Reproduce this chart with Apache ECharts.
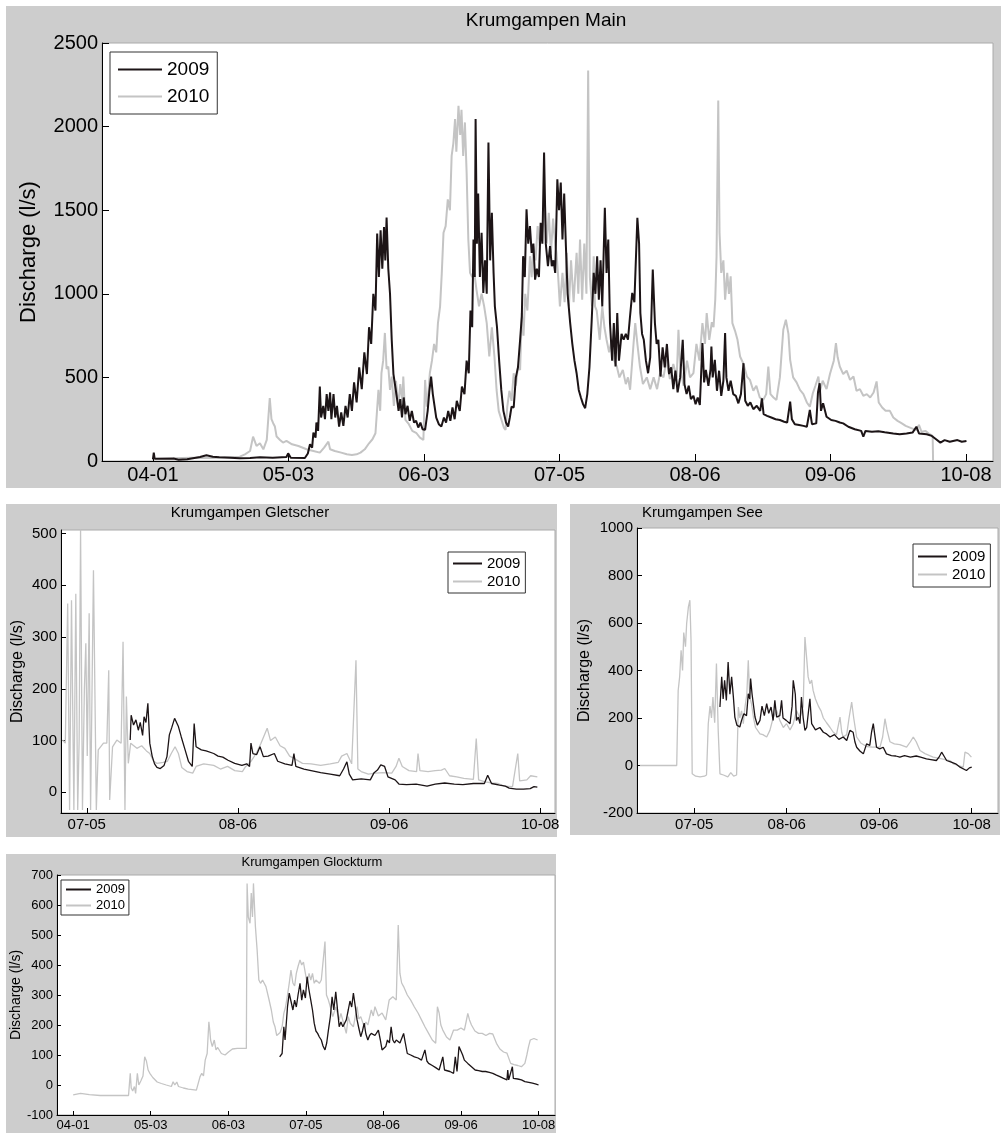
<!DOCTYPE html>
<html>
<head>
<meta charset="utf-8">
<script src="https://cdn.jsdelivr.net/npm/echarts@6/dist/echarts.min.js"></script>
<style>
  html, body { margin: 0; padding: 0; background: #fff; }
  #main { width: 1001px; height: 1133px; }
</style>
</head>
<body>
<div id="main"></div>
<script>
// tick positions (day of year) and their labels
const tickDays = [91, 122.667, 154.333, 186, 217.667, 249.333, 281];
const tickLabels = ["04-01", "05-03", "06-03", "07-05", "08-06", "09-06", "10-08"];

// Krumgampen Main, [day of year, discharge l/s]
const main2009 = [[91,10],[91.2,50],[91.4,14],[95.8,15],[97,8],[99,10],[102,24],[103.5,34],[105,26],[106.5,22],[109,20],[111.3,16],[113.7,18],[116,22],[119,20],[122.2,24],[122.6,46],[123.2,20],[126.5,18],[127.2,45],[127.7,100],[128.2,80],[128.5,170],[129,140],[129.2,230],[129.6,180],[130,445],[130.3,260],[130.8,330],[131.2,250],[131.6,400],[132,300],[132.4,410],[132.7,250],[133.2,400],[133.6,260],[134,330],[134.5,206],[135,290],[135.5,210],[136,330],[136.5,260],[137,400],[137.5,300],[138,470],[138.6,350],[139.2,560],[139.8,430],[140.4,650],[141,520],[141.5,800],[142,700],[142.5,1000],[143,900],[143.4,1360],[143.8,1100],[144.2,1380],[144.6,1150],[145,1400],[145.3,1200],[145.6,1456],[146,1150],[146.4,1000],[146.8,725],[147.2,520],[147.6,450],[148,380],[148.4,300],[148.8,370],[149.2,260],[149.6,380],[150,280],[150.5,330],[151,240],[151.5,300],[152,230],[152.5,240],[153,200],[153.5,230],[154,190],[154.6,186],[155.2,300],[155.6,420],[156,505],[156.4,400],[156.8,330],[157.2,260],[157.8,220],[158.4,206],[159,260],[159.5,230],[160,300],[160.5,240],[161,320],[161.5,250],[162,360],[162.7,300],[163.2,445],[163.8,400],[164.3,600],[164.8,525],[165.2,900],[165.6,800],[165.9,1325],[166.2,1100],[166.4,2046],[166.7,1300],[167,1600],[167.4,1100],[167.8,1365],[168.2,1005],[168.6,1200],[169,1000],[169.4,1905],[169.8,1200],[170.2,1485],[170.6,1125],[170.9,925],[171.4,800],[171.9,600],[172.4,425],[172.9,300],[173.5,230],[174,206],[174.4,260],[174.8,325],[175.3,320],[175.8,500],[176.3,560],[176.8,725],[177.2,865],[177.5,1225],[177.9,1100],[178.3,1505],[178.7,1300],[179.1,1405],[179.5,1245],[179.9,1300],[180.3,1085],[180.7,1150],[181.2,1100],[181.6,1425],[182,1300],[182.4,1845],[182.8,1300],[183.3,1165],[183.8,1285],[184.2,1165],[184.6,1200],[185,1125],[185.5,1685],[185.9,1500],[186.3,1665],[186.7,1325],[187.1,1600],[187.5,1285],[187.9,1000],[188.5,825],[189,700],[189.5,600],[190,525],[190.5,425],[191,380],[191.5,340],[192,316],[192.5,400],[193,560],[193.5,825],[194,1125],[194.4,1000],[194.8,1225],[195.2,965],[195.6,1200],[196,925],[196.6,1515],[197,1125],[197.4,1325],[197.8,825],[198.3,600],[198.7,825],[199.1,565],[199.5,885],[199.9,600],[200.5,760],[201,725],[201.5,760],[202,725],[202.5,870],[203,1005],[203.5,950],[204.2,1455],[204.6,1300],[204.9,885],[205.3,760],[205.7,725],[206.2,600],[206.7,525],[207.2,620],[207.8,1145],[208.3,825],[208.7,700],[209.1,725],[209.6,505],[210.1,680],[210.6,560],[211.1,700],[211.6,520],[212.1,560],[212.6,430],[213.1,540],[213.6,410],[214.2,500],[214.8,725],[215.2,460],[215.7,400],[216.2,450],[216.7,370],[217.3,390],[217.8,340],[218.3,380],[218.8,335],[219.4,705],[219.8,470],[220.2,545],[220.8,450],[221.3,550],[221.5,685],[221.8,500],[222.3,605],[222.8,420],[223.3,540],[223.8,390],[224.3,480],[224.7,765],[225,500],[225.5,420],[226,480],[226.6,400],[227.2,390],[227.8,345],[228.4,400],[229,585],[229.4,360],[230,330],[230.6,350],[231.3,310],[232.1,330],[232.9,300],[233.3,375],[233.7,280],[234.5,270],[235.5,260],[236.5,250],[237.5,245],[238.5,235],[239.2,230],[239.9,355],[240.3,250],[241,220],[242,215],[243,210],[243.8,205],[244.5,305],[245,220],[246,225],[246.4,410],[246.8,465],[247.1,300],[247.6,345],[248.4,265],[249.5,245],[250.5,240],[251.5,230],[252.3,225],[253.5,205],[255,190],[256.5,180],[257,145],[257.5,180],[259,175],[260.5,178],[262,172],[264,165],[265.5,160],[267.1,165],[267.5,155],[268.5,170],[269.4,205],[270,165],[271.8,160],[273,150],[274,130],[275,110],[276,125],[277.2,115],[279,125],[280,115],[281.1,120]];
const main2010 = [[95.8,16],[100,20],[105,18],[109,24],[111.3,26],[112.5,40],[113.7,60],[114.4,146],[115.2,90],[116,106],[116.8,70],[117.6,126],[118.3,376],[118.7,250],[119.1,226],[119.5,206],[119.9,146],[120.7,126],[121.4,110],[122.2,120],[123.5,100],[125,90],[126.9,70],[128.5,60],[130,50],[131,80],[132,116],[132.4,70],[133.5,60],[135,50],[136.3,40],[137.5,36],[138.6,40],[139.5,50],[140.5,70],[141.5,106],[142.3,130],[143,166],[143.7,425],[144.1,300],[144.4,525],[144.8,600],[145.2,766],[145.6,550],[146,565],[146.4,425],[146.8,505],[147.3,330],[147.8,480],[148.3,325],[148.8,460],[149.3,350],[149.5,505],[150,246],[150.8,220],[151.6,180],[152.6,166],[153.4,140],[154.2,126],[154.6,485],[155,325],[155.4,420],[155.7,525],[156.2,600],[156.7,700],[157.2,650],[157.6,825],[158.1,925],[158.5,1125],[158.9,1365],[159.4,1405],[159.9,1565],[160.4,1500],[160.8,1825],[161.2,1900],[161.6,2045],[161.9,1850],[162.4,2125],[162.8,1950],[163.1,2100],[163.5,1825],[163.9,2025],[164.3,1725],[164.7,1325],[165.1,1125],[165.6,1100],[166.1,1125],[166.6,1025],[167.2,925],[167.8,1000],[168.4,925],[169,825],[169.6,625],[170.2,800],[170.8,625],[171.3,425],[171.8,300],[172.4,250],[173,200],[173.4,186],[173.8,325],[174.3,420],[174.8,360],[175.3,525],[175.8,450],[176.3,565],[176.8,545],[177.2,885],[177.6,750],[178,1000],[178.5,900],[179.1,1225],[179.5,1100],[179.9,1285],[180.4,1200],[180.9,1405],[181.4,1285],[181.9,1350],[182.6,1545],[183,1300],[183.5,1485],[184,1245],[184.5,1450],[185,1300],[185.3,1245],[185.7,1100],[186.1,925],[186.7,1125],[187.2,950],[187.7,1245],[188.2,925],[188.7,1200],[189.3,950],[190,1245],[190.4,1000],[190.8,1325],[191.3,965],[191.8,1300],[192.3,1000],[192.7,2336],[193.1,1100],[193.6,925],[194,1225],[194.3,925],[194.7,900],[195.4,725],[196,925],[196.5,800],[197,725],[197.6,650],[198.2,725],[198.8,600],[199.4,565],[200,500],[200.8,545],[201.5,460],[202,500],[202.5,426],[203.3,700],[203.7,825],[204.2,700],[204.8,565],[205.5,460],[206.4,500],[207.2,430],[208,500],[208.8,430],[209.5,525],[210.3,500],[211,605],[211.8,490],[212.6,580],[213.4,500],[213.8,785],[214.2,560],[215,450],[215.8,600],[216.5,500],[217.3,525],[218,700],[218.7,600],[219.4,825],[220,700],[220.4,885],[221,725],[221.6,830],[222,800],[222.4,965],[222.7,1225],[223.1,2156],[223.4,1365],[223.8,1125],[224.3,1200],[224.7,965],[225.2,1125],[225.6,1000],[226,1105],[226.4,825],[227,780],[227.6,725],[228.2,625],[229,580],[229.8,505],[230.5,485],[231.3,420],[232,450],[232.8,380],[233.6,365],[234.3,400],[234.8,565],[235.3,400],[236,380],[236.7,365],[237.5,500],[238.3,785],[238.9,845],[239.5,760],[239.9,605],[240.6,500],[241.4,470],[242.2,425],[243,400],[243.8,350],[244.5,325],[245.2,405],[245.8,450],[246.5,505],[246.9,420],[247.5,480],[248.4,430],[249.2,520],[250.1,600],[250.6,705],[251,620],[251.5,565],[252.3,520],[253.1,540],[253.9,485],[254.7,505],[255.4,420],[256.2,430],[257,390],[257.8,400],[258.6,380],[259.4,410],[260.1,476],[260.6,350],[261.4,320],[262.2,300],[263.2,300],[264,260],[265,240],[266,225],[266.9,210],[267.9,200],[269.4,185],[270,216],[270.6,175],[271.5,180],[272.5,160],[273.2,150],[273.3,0]];

// Krumgampen Gletscher
const glet2009 = [[195.1,101],[195.3,149],[195.8,130],[196.3,140],[196.8,120],[197.2,135],[197.7,110],[198,146],[198.4,135],[198.8,172],[199.2,95],[199.7,70],[200.2,55],[200.7,48],[201.4,46],[202.2,52],[202.8,69],[203.3,111],[203.8,125],[204.4,143],[204.8,140],[205.2,127],[205.8,107],[206.6,82],[207.3,60],[208.1,50],[208.5,133],[208.9,88],[210,82],[211,80],[212.6,75],[213.5,70],[214.5,68],[215.6,62],[217,56],[218.5,52],[219.5,55],[220.1,50],[220.4,95],[220.8,75],[221.6,73],[222.3,88],[223,69],[224,70],[225.3,75],[226,60],[227.5,55],[229,52],[229.4,75],[229.8,50],[231.5,45],[233,42],[235,38],[237,35],[239,32],[239.8,45],[240.5,59],[241,35],[241.7,24],[243.5,26],[245.4,24],[246.2,38],[246.9,43],[247.6,53],[248.4,50],[249.1,30],[250.6,24],[251.4,16],[253,15],[255,16],[257.3,12],[259,16],[261,18],[263,16],[264.8,15],[267,17],[269.3,17],[270,33],[270.8,17],[272.5,14],[273.7,12],[274.5,8],[276,6],[277.5,6],[278.9,7],[279.7,11],[280.4,10]];
const glet2010 = [[180.9,101],[181.5,95],[182,365],[182.4,-34],[182.8,371],[183.3,-34],[183.7,384],[184.1,-34],[184.4,100],[184.7,508],[185.1,-34],[185.5,200],[185.8,288],[186.1,70],[186.5,346],[186.8,-34],[187.4,429],[188,-34],[188.4,82],[189.5,95],[190.2,95],[190.6,236],[190.8,-15],[191.4,88],[192.3,101],[193.2,95],[193.6,291],[194,-34],[194.3,185],[194.7,56],[195.2,95],[196.5,85],[197.5,90],[198.5,80],[199.2,75],[200,60],[200.7,56],[202,58],[202.9,60],[203.7,75],[204.5,88],[205.2,75],[205.9,48],[207,40],[208.2,37],[208.9,50],[210.5,55],[212.6,52],[214,45],[215.5,50],[217,42],[218.6,40],[219.3,50],[220.4,60],[221.5,75],[222.5,95],[223.8,124],[224.5,100],[225.5,107],[226.5,90],[227.5,85],[228.5,70],[229.5,65],[231.2,56],[233,55],[235,52],[237,55],[238.7,58],[239.4,70],[240.5,75],[241.5,55],[242.4,255],[242.8,45],[243.5,40],[245,35],[246.5,37],[248,38],[249.9,37],[250.8,50],[251.4,66],[252.1,50],[253.5,42],[255.1,40],[255.4,75],[255.8,42],[257.5,40],[259,42],[260.3,43],[261,46],[262,32],[263.5,30],[265,27],[267,25],[267.6,104],[268.1,24],[269.5,20],[271,18],[272.2,17],[273.5,12],[275.2,11],[276.3,75],[276.7,22],[278.2,24],[279,32],[280.4,30]];

// Krumgampen See
const see2009 = [[194.8,246],[195.4,373],[195.9,280],[196.4,359],[197,274],[197.6,436],[198.2,300],[198.8,373],[199.4,288],[199.9,204],[200.6,170],[201.6,162],[202.2,190],[203,218],[203.9,210],[204.5,302],[205,280],[205.3,366],[205.8,300],[206.8,204],[207.6,170],[208.5,190],[209.2,250],[210,210],[210.8,260],[211.5,220],[212.3,246],[213,190],[213.6,274],[214.2,204],[215.3,210],[215.9,274],[216.4,200],[217.5,190],[218.8,176],[219.5,250],[219.9,359],[220.6,300],[221,190],[221.6,204],[222.2,176],[222.7,288],[223.3,200],[223.9,148],[224.5,160],[225.6,281],[226.2,176],[227.5,150],[229,160],[230.2,140],[231.3,133],[232.5,120],[234,130],[235.5,110],[237,120],[238.2,105],[239.3,148],[240.4,140],[241,100],[241.6,77],[242.8,60],[243.9,49],[245,91],[246.1,85],[246.7,140],[247.3,176],[247.8,130],[248.4,77],[249.5,70],[250.7,77],[251.8,49],[253.5,42],[255,40],[256.4,35],[258,42],[260,35],[262,40],[263.5,35],[265.5,28],[267,25],[268.9,21],[269.8,35],[270.7,56],[271.5,40],[272.4,21],[274,14],[275.5,7],[277,-7],[279.2,-21],[280.2,-10],[281,-7]];
const see2010 = [[167.4,0],[175,0],[180,0],[180.5,316],[181,373],[181.5,485],[182,400],[182.4,560],[183,500],[183.4,598],[184,668],[184.5,696],[184.9,527],[185.3,-35],[186.5,-45],[188,-48],[189.5,-45],[190.2,-40],[190.8,176],[191.4,250],[191.9,200],[192.4,288],[193,180],[193.6,429],[194.2,148],[194.8,-35],[196,-40],[197.5,-48],[198.5,-30],[199.5,-45],[200.5,-40],[201.1,246],[201.6,200],[202.2,230],[202.8,176],[203.3,240],[204,300],[204.5,443],[205,288],[205.6,260],[206.3,200],[207,160],[208.5,133],[209.5,130],[210.8,120],[211.9,148],[213,200],[214.2,232],[215.3,190],[216.5,160],[217.6,176],[218.8,150],[219.9,176],[221,232],[222.2,200],[223.3,250],[223.9,541],[224.5,450],[225,373],[225.6,344],[226.2,360],[226.7,316],[227.5,280],[228.5,250],[229.4,230],[230.2,200],[231.3,180],[232.5,160],[233.6,140],[234.7,130],[235.9,204],[236.5,140],[237,120],[238.2,130],[239,200],[239.9,267],[240.6,200],[241.6,120],[243,95],[245,80],[247,77],[249.6,77],[250.5,120],[251.3,197],[252,150],[253,100],[254.5,91],[256.4,88],[258.7,77],[260,100],[261,120],[262,100],[263.3,63],[265,50],[267.8,35],[270,30],[273.5,21],[274.7,7],[276.5,0],[278.1,-7],[278.7,56],[279.8,50],[280.9,35]];

// Krumgampen Glockturm
const glock2009 = [[175.3,94],[176.3,105],[177,194],[177.5,150],[178.5,261],[179.2,306],[179.9,280],[180.7,250],[181.4,283],[182.1,260],[182.8,300],[183.6,339],[184.3,283],[185,317],[185.8,290],[186.5,361],[187.2,320],[188,283],[188.7,250],[189.4,206],[190.1,180],[190.8,172],[191.5,160],[192.3,150],[193,130],[193.8,117],[194.5,140],[195.2,183],[196,228],[196.7,294],[197.4,250],[198.2,311],[198.9,306],[199.6,194],[200.3,210],[201.1,194],[202.5,217],[203.3,250],[204,280],[204.7,260],[205.4,306],[206.2,260],[206.9,217],[207.6,190],[208.4,161],[209.1,180],[209.8,206],[210.5,170],[211.3,150],[212,165],[212.7,172],[214.2,165],[215.6,183],[216.4,150],[217.1,117],[218.6,128],[219.3,150],[220.1,140],[220.8,194],[221.5,150],[222.2,140],[222.9,150],[224.4,140],[225.9,172],[226.6,140],[227.4,105],[228.8,100],[230.3,94],[231.8,90],[233.2,83],[234.6,117],[235.4,80],[236.1,72],[237.6,65],[239,58],[240.4,50],[241.2,55],[241.9,94],[242.6,50],[243.4,50],[244.8,45],[246.3,39],[247,94],[247.7,45],[248.5,128],[249.3,122],[250,100],[250.7,83],[252.1,72],[253.6,61],[255.1,50],[256.5,48],[258,45],[259.4,45],[260.9,42],[262.3,39],[263.8,33],[265.2,28],[266.7,22],[268.1,17],[268.4,50],[268.8,17],[269.6,20],[270.3,61],[270.7,22],[272.5,20],[274,17],[275.4,11],[277,9],[278.5,6],[280,3],[281,0]];
const glock2010 = [[91,-33],[94,-28],[97.6,-32],[102,-35],[107,-35],[113.6,-35],[114.3,39],[114.7,-10],[115.3,-20],[116,-5],[116.5,-28],[117.2,39],[117.8,0],[118.7,15],[119.5,30],[120.2,94],[120.9,80],[121.6,50],[122.3,39],[123.5,25],[125.3,10],[127,5],[129,0],[131.1,-5],[131.8,11],[132.5,0],[133.3,10],[134,-5],[136,-10],[138,-14],[141.3,-17],[142,-17],[142.8,28],[143.5,39],[144.2,30],[144.9,83],[145.7,105],[146.4,211],[146.8,180],[147.1,150],[147.8,128],[148.6,150],[149.3,117],[150,125],[151.5,105],[153,100],[154.4,110],[156,120],[158,122],[160.3,122],[161.7,122],[162,672],[162.5,560],[163.2,539],[163.7,640],[164.2,560],[164.6,672],[165,600],[165.4,528],[166.1,450],[166.8,350],[167.5,339],[168.3,350],[169.7,328],[170.8,290],[171.9,250],[172.7,210],[173.4,194],[174.1,165],[174.8,161],[175.5,175],[176.3,194],[177,239],[177.7,260],[178.5,300],[179.2,339],[179.9,383],[180.7,340],[181.4,330],[182.1,372],[182.8,395],[183.6,417],[184.3,400],[185,410],[185.8,372],[186.5,339],[187.3,372],[188,350],[188.7,372],[189.4,339],[190.1,350],[190.8,350],[191.5,339],[192.3,350],[193.1,350],[193.8,478],[194.4,300],[195.2,283],[196,260],[197,228],[198.2,260],[199.6,217],[200.3,239],[201.1,239],[202.5,172],[203.3,228],[204.1,206],[205.4,194],[206.9,261],[207.6,220],[208.4,228],[209.8,194],[210.5,210],[211.3,200],[212.7,250],[213.5,230],[214.2,261],[215.6,230],[217.1,240],[218.6,217],[219.3,250],[220,283],[221.5,294],[222.9,283],[223.7,533],[224.4,372],[225.1,340],[225.9,328],[227.4,300],[228.8,283],[230.3,260],[231.8,240],[233.2,217],[234.6,194],[236.1,172],[237.6,150],[239,139],[239.7,261],[240.4,240],[241.1,200],[241.9,183],[243.4,160],[244.8,150],[246.3,183],[247.8,183],[249.3,190],[250.7,183],[251.4,210],[252.1,239],[252.8,217],[253.6,200],[255,180],[256.5,172],[258,172],[259.5,165],[261,172],[262.3,170],[263.8,139],[265.2,120],[266.7,110],[268.1,106],[269.6,72],[271,68],[272.5,65],[274,61],[275.4,72],[276.2,100],[276.9,128],[277.6,150],[278.3,150],[279.1,155],[280.6,150]];

const FONT = "Liberation Sans, Arial, sans-serif";
const BLACK = "#1c1416";
const GREY = "#c4c4c4";
const PANEL = "#cdcdcd";

function dayLabel(v) {
  for (let i = 0; i < tickDays.length; i++) {
    if (Math.abs(tickDays[i] - v) < 0.01) return tickLabels[i];
  }
  return "";
}

function xAxis(idx, min, max, fs, tick) {
  return {
    type: "value", gridIndex: idx, min: min, max: max,
    axisLine: { onZero: false, lineStyle: { color: "#000", width: 1 } },
    axisTick: { inside: true, length: tick, customValues: tickDays, lineStyle: { color: "#000" } },
    axisLabel: { customValues: tickDays, formatter: dayLabel, color: "#000", fontSize: fs, fontFamily: FONT, margin: 4 },
    splitLine: { show: false }
  };
}

function yAxis(idx, min, max, ticks, fs, nameFs, gap, tick) {
  return {
    type: "value", gridIndex: idx, min: min, max: max,
    name: "Discharge (l/s)", nameLocation: "middle", nameGap: gap,
    nameTextStyle: { fontSize: nameFs, fontFamily: FONT, color: "#000" },
    axisLine: { show: true, onZero: false, lineStyle: { color: "#000", width: 1 } },
    axisTick: { show: true, inside: true, length: tick, customValues: ticks, lineStyle: { color: "#000" } },
    axisLabel: { customValues: ticks, formatter: (v) => String(v), color: "#000", fontSize: fs, fontFamily: FONT, margin: 4 },
    splitLine: { show: false }
  };
}

function line(name, data, idx, color, w, z) {
  return {
    name: name, type: "line", data: data, xAxisIndex: idx, yAxisIndex: idx,
    symbol: "none", z: z, lineStyle: { color: color, width: w }, itemStyle: { color: color }
  };
}

function legend(left, top, fs, iw, gap, pad) {
  return {
    data: [{ name: "2009", icon: "rect" }, { name: "2010", icon: "rect" }],
    orient: "vertical", left: left, top: top,
    itemWidth: iw, itemHeight: 2, itemGap: gap, padding: pad,
    borderColor: "#333", borderWidth: 1, backgroundColor: "#fff",
    selectedMode: false,
    textStyle: { fontSize: fs, fontFamily: FONT, color: "#000" }
  };
}

const chart = echarts.init(document.getElementById("main"));
chart.setOption({
  animation: false,
  backgroundColor: "#fff",
  graphic: [
    { type: "rect", z: -10, silent: true, shape: { x: 6, y: 6, width: 995, height: 482 }, style: { fill: PANEL } },
    { type: "rect", z: -10, silent: true, shape: { x: 6, y: 504, width: 551, height: 333 }, style: { fill: PANEL } },
    { type: "rect", z: -10, silent: true, shape: { x: 570, y: 504, width: 430, height: 331 }, style: { fill: PANEL } },
    { type: "rect", z: -10, silent: true, shape: { x: 6, y: 854, width: 550, height: 279 }, style: { fill: PANEL } }
  ],
  title: [
    { text: "Krumgampen Main", left: 546, top: 11, textAlign: "center", padding: 0, textStyle: { fontSize: 19, fontWeight: "normal", fontFamily: FONT, color: "#000" } },
    { text: "Krumgampen Gletscher", left: 250, top: 505, textAlign: "center", padding: 0, textStyle: { fontSize: 15, fontWeight: "normal", fontFamily: FONT, color: "#000" } },
    { text: "Krumgampen See", left: 642, top: 505, textAlign: "left", padding: 0, textStyle: { fontSize: 15, fontWeight: "normal", fontFamily: FONT, color: "#000" } },
    { text: "Krumgampen Glockturm", left: 312, top: 856, textAlign: "center", padding: 0, textStyle: { fontSize: 13, fontWeight: "normal", fontFamily: FONT, color: "#000" } }
  ],
  legend: [
    legend(110, 52, 19, 44, 8, [8, 8, 8, 8]),
    legend(448, 552, 15, 29, 3, [4, 5, 4, 5]),
    legend(913, 544, 15, 29, 3, [5, 5, 5, 5]),
    legend(61, 880, 13, 25, 3, [3, 4, 3, 5])
  ],
  grid: [
    { left: 102, top: 43, width: 891, height: 418, show: true, backgroundColor: "#fff", borderColor: "#aaa", borderWidth: 1 },
    { left: 61, top: 530, width: 494, height: 283, show: true, backgroundColor: "#fff", borderColor: "#aaa", borderWidth: 1 },
    { left: 637, top: 528, width: 361, height: 285, show: true, backgroundColor: "#fff", borderColor: "#aaa", borderWidth: 1 },
    { left: 57, top: 875, width: 498, height: 240, show: true, backgroundColor: "#fff", borderColor: "#aaa", borderWidth: 1 }
  ],
  xAxis: [
    xAxis(0, 79.1, 287.3, 20, 7),
    xAxis(1, 180.6, 284.1, 15, 5),
    xAxis(2, 166.4, 290, 15, 5),
    xAxis(3, 84.4, 287.7, 13, 4)
  ],
  yAxis: [
    yAxis(0, 0, 2500, [0, 500, 1000, 1500, 2000, 2500], 20, 22, 62, 7),
    yAxis(1, -40, 507, [0, 100, 200, 300, 400, 500], 15, 16, 35, 5),
    yAxis(2, -200, 1000, [-200, 0, 200, 400, 600, 800, 1000], 15, 16, 44, 5),
    yAxis(3, -100, 700, [-100, 0, 100, 200, 300, 400, 500, 600, 700], 13, 14, 32, 4)
  ],
  series: [
    line("2010", main2010, 0, GREY, 2, 2),
    line("2009", main2009, 0, BLACK, 2, 3),
    line("2010", glet2010, 1, GREY, 1.3, 2),
    line("2009", glet2009, 1, BLACK, 1.3, 3),
    line("2010", see2010, 2, GREY, 1.3, 2),
    line("2009", see2009, 2, BLACK, 1.3, 3),
    line("2010", glock2010, 3, GREY, 1.3, 2),
    line("2009", glock2009, 3, BLACK, 1.3, 3)
  ]
});
</script>
</body>
</html>
